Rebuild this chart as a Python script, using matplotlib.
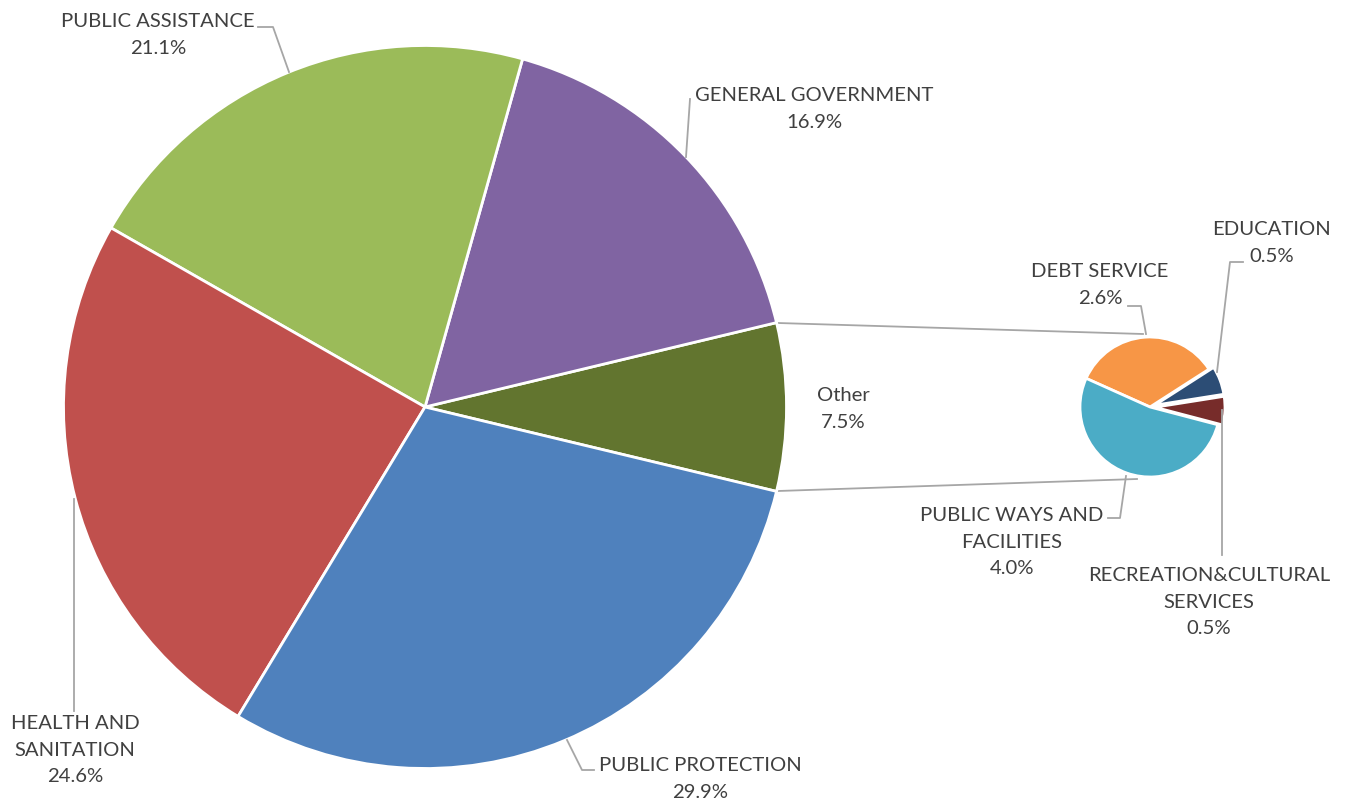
import matplotlib
matplotlib.use("Agg")
import matplotlib.pyplot as plt

# ---- data ----
main_labels = ["Other", "GENERAL GOVERNMENT", "PUBLIC ASSISTANCE",
               "HEALTH AND\nSANITATION", "PUBLIC PROTECTION"]
main_values = [7.5, 16.9, 21.1, 24.6, 29.9]
main_colors = ["#62752F", "#8064A2", "#9BBB59", "#C0504D", "#4F81BD"]

sub_labels = ["RECREATION&CULTURAL\nSERVICES", "EDUCATION", "DEBT SERVICE",
              "PUBLIC WAYS AND\nFACILITIES"]
sub_values = [0.5, 0.5, 2.6, 4.0]
sub_colors = ["#772C2A", "#2C4D75", "#F79646", "#4BACC6"]
sub_explode = [5, 5, 0, 0]

W, H = 1348, 806
fig = plt.figure(figsize=(W / 100, H / 100), dpi=100)
ax = fig.add_axes([0, 0, 1, 1])

def Y(y):
    return H - y

plt.rcParams["font.family"] = ["Lato", "DejaVu Sans"]
TXT = "#404040"
LINE = "#A6A6A6"
FS = 14.6

# main pie
main_start = -360 * main_values[0] / 100 / 2
ax.pie(main_values, colors=main_colors, startangle=main_start, counterclock=True,
       center=(425, Y(407)), radius=361.5,
       wedgeprops=dict(edgecolor="white", linewidth=2.0), frame=True)

# sub pie
tot = sum(sub_values)
sub_start = 9 - 360 * sub_values[0] / tot
ax.pie(sub_values, colors=sub_colors, startangle=sub_start, counterclock=True,
       center=(1150, Y(407)), radius=70, explode=sub_explode,
       wedgeprops=dict(edgecolor="white", linewidth=2.0), frame=True)
ax.set_xlim(0, W)
ax.set_ylim(0, H)
ax.set_aspect("equal")
ax.axis("off")

# connector lines between pies
ax.plot([778, 1143], [Y(323), Y(334)], color=LINE, lw=1.3, zorder=0)
ax.plot([778, 1137], [Y(491), Y(479)], color=LINE, lw=1.3, zorder=0)

def lbl(x, y, name, val):
    ax.text(x, Y(y), f"{name}\n{val:.1f}%", ha="center", va="center", fontsize=FS,
            color=TXT, linespacing=1.68)

def leader(xs, ys):
    ax.plot(xs, [Y(v) for v in ys], color=LINE, lw=1.3, zorder=3)

# main labels
lbl(158, 35, main_labels[2], main_values[2])
leader([258, 273, 289], [27, 27, 72])
lbl(814, 109, main_labels[1], main_values[1])
leader([690, 686], [99, 157])
lbl(843, 409, main_labels[0], main_values[0])
lbl(75, 750, main_labels[3], main_values[3])
leader([74, 74], [499, 711])
lbl(700, 779, main_labels[4], main_values[4])
leader([567, 582, 594], [740, 770, 770])

# sub labels
lbl(1100, 285, sub_labels[2], sub_values[2])
leader([1128, 1141, 1146], [306, 306, 334])
lbl(1272, 243, sub_labels[1], sub_values[1])
leader([1243, 1230, 1217], [262, 262, 372])
lbl(1012, 542, sub_labels[3], sub_values[3])
leader([1108, 1120, 1126], [518, 518, 476])
lbl(1209, 602, sub_labels[0], sub_values[0])
leader([1222, 1222], [410, 555])

fig.savefig("out.png", dpi=100, facecolor="white")
